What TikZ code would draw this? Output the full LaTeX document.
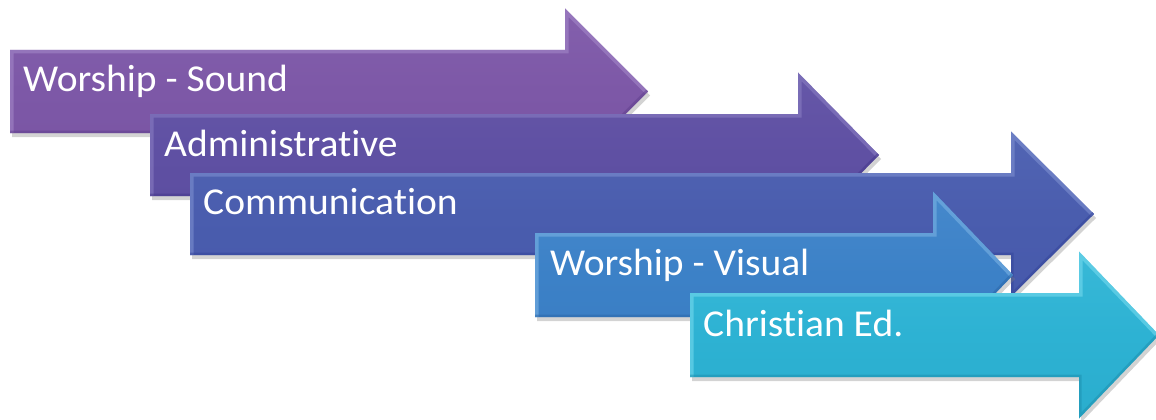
\documentclass[tikz,border=0pt]{standalone}
\usepackage{fontspec}
\setmainfont[Ligatures=NoCommon,FakeStretch=1.04]{Carlito}
\usetikzlibrary{shadows}
\definecolor{cA}{HTML}{7D58A7}\definecolor{cAl}{HTML}{A68ACA}\definecolor{cAd}{HTML}{5F3F8C}
\definecolor{cB}{HTML}{5F50A3}\definecolor{cBl}{HTML}{8C80C4}\definecolor{cBd}{HTML}{45378A}
\definecolor{cC}{HTML}{4A5DAE}\definecolor{cCl}{HTML}{8193D2}\definecolor{cCd}{HTML}{34449A}
\definecolor{cD}{HTML}{3C81C7}\definecolor{cDl}{HTML}{7FB6E6}\definecolor{cDd}{HTML}{2A66A8}
\definecolor{cE}{HTML}{2DB2D3}\definecolor{cEl}{HTML}{7ADDF0}\definecolor{cEd}{HTML}{1C8FAE}
\tikzset{
  arrowshape/.style={drop shadow={opacity=0.35,shadow xshift=2pt,shadow yshift=-4pt}},
  lbl/.style={anchor=base west,text=white,font=\fontsize{38}{44}\selectfont,inner sep=0pt},
}
% #1 L, #2 T, #3 B, #4 head base x, #5 tip x, #6 base, #7 light, #8 dark
\newcommand\bevelarrow[8]{%
  \path[arrowshape,top color=#6!85!#7,bottom color=#6!85!#8,middle color=#6]
    (#1,#2) -- (#4,#2) -- (#4,{#2-41.5}) -- (#5,{(#2+#3)/2}) -- (#4,{#3+41.5}) -- (#4,#3) -- (#1,#3) -- cycle;
  \begin{scope}
    \clip (#1,#2) -- (#4,#2) -- (#4,{#2-41.5}) -- (#5,{(#2+#3)/2}) -- (#4,{#3+41.5}) -- (#4,#3) -- (#1,#3) -- cycle;
    \draw[line width=7pt,#7,opacity=0.55,line join=miter] (#1,{#3}) -- (#1,#2) -- (#4,#2) -- (#4,{#2-41.5}) -- (#5,{(#2+#3)/2});
    \draw[line width=5pt,#8,opacity=0.5,line join=miter] (#5,{(#2+#3)/2}) -- (#4,{#3+41.5}) -- (#4,#3) -- (#1,#3);
  \end{scope}}
\begin{document}
\begin{tikzpicture}[x=1pt,y=-1pt]
\useasboundingbox (0,0) rectangle (1156,420);
\bevelarrow{10}{50}{133}{565}{648}{cA}{cAl}{cAd}
\node[lbl] (ws) at (23,92) {Worship - Sound};
\bevelarrow{150}{114}{196}{798}{879}{cB}{cBl}{cBd}
\node[lbl] (adm) at (164,156) {Administrative};
\bevelarrow{190}{173}{255}{1011}{1094}{cC}{cCl}{cCd}
\node[lbl] (com) at (203,214) {Communication};
\bevelarrow{535}{233}{317}{933}{1013}{cD}{cDl}{cDd}
\node[lbl] (wv) at (550,275) {Worship - Visual};
\bevelarrow{690}{293}{377}{1079}{1159}{cE}{cEl}{cEd}
\node[lbl] (ce) at (703,336) {Christian Ed.};
\end{tikzpicture}
\end{document}
